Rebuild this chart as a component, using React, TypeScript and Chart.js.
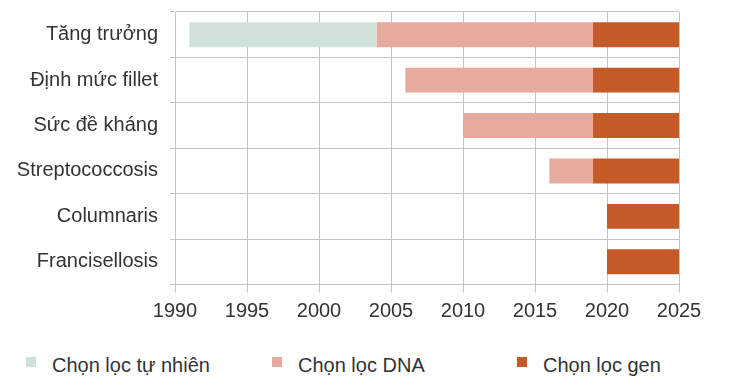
import React, { useEffect, useRef } from "react";
import { Chart, registerables } from "chart.js";

Chart.register(...registerables);

const categories = [
  "Tăng trưởng",
  "Định mức fillet",
  "Sức đề kháng",
  "Streptococcosis",
  "Columnaris",
  "Francisellosis",
];

const seriesNames = ["Chọn lọc tự nhiên", "Chọn lọc DNA", "Chọn lọc gen"];

const naturalStart = [1991, null, null, null, null, null];
const naturalEnd = [2004, null, null, null, null, null];
const dnaStart = [2004, 2006, 2010, 2016, null, null];
const dnaEnd = [2019, 2019, 2019, 2019, null, null];
const genStart = [2019, 2019, 2019, 2019, 2020, 2020];
const genEnd = [2025, 2025, 2025, 2025, 2025, 2025];

const xMin = 1990;
const xMax = 2025;
const xStep = 5;

const colors = ["#d0e1da", "#e6aa9f", "#c45a28"];
const FONT = "'Liberation Sans', Arial, Helvetica, sans-serif";
const TEXT = "#333333";
const GRID = "#c4c4c4";

function pairs(a: (number | null)[], b: (number | null)[]) {
  return a.map((s, i) => (s === null || b[i] === null ? null : [s, b[i]]));
}

export default function App() {
  const ref = useRef<HTMLCanvasElement | null>(null);

  useEffect(() => {
    document.body.style.margin = "0";
    const canvas = ref.current;
    if (!canvas) return;
    const starts = [naturalStart, dnaStart, genStart];
    const ends = [naturalEnd, dnaEnd, genEnd];
    const chart = new Chart(canvas, {
      type: "bar",
      data: {
        labels: categories,
        datasets: seriesNames.map((name, k) => ({
          label: name,
          data: pairs(starts[k], ends[k]) as any,
          backgroundColor: colors[k],
          borderWidth: 0,
          grouped: false,
          categoryPercentage: 0.55,
          barPercentage: 1,
        })),
      },
      options: {
        indexAxis: "y",
        animation: false,
        responsive: false,
        maintainAspectRatio: false,
        layout: { padding: { top: 12, right: 71, bottom: 0, left: 0 } },
        plugins: {
          legend: { display: false },
          tooltip: { enabled: false },
        },
        scales: {
          x: {
            type: "linear",
            min: xMin,
            max: xMax,
            ticks: {
              stepSize: xStep,
              color: TEXT,
              font: { family: FONT, size: 20 },
              padding: 7,
              maxRotation: 0,
              callback: (v: any) => String(v),
            },
            grid: { color: GRID, lineWidth: 1, tickLength: 8 },
            border: { color: GRID, width: 1 },
            afterFit: (s: any) => {
              s.height = 330 - 284.5;
              s.paddingLeft = 0;
              s.paddingRight = 0;
            },
          },
          y: {
            type: "category",
            ticks: {
              color: TEXT,
              font: { family: FONT, size: 20 },
              padding: 12,
            },
            grid: { color: GRID, lineWidth: 1, tickLength: 5, offset: true },
            border: { color: GRID, width: 1 },
            afterFit: (s: any) => {
              s.width = 175;
              s.paddingTop = 0;
              s.paddingBottom = 0;
            },
          },
        },
      },
    });
    return () => chart.destroy();
  }, []);

  const legendLeft = [26, 272, 517];

  return (
    <div style={{ position: "relative", width: 750, height: 392, background: "#fff" }}>
      <canvas ref={ref} width={750} height={330} style={{ display: "block", width: 750, height: 330 }} />
      {seriesNames.map((name, k) => (
        <div key={name}>
          <div
            style={{
              position: "absolute",
              left: legendLeft[k],
              top: 357,
              width: 10,
              height: 10,
              background: colors[k],
            }}
          />
          <span
            style={{
              position: "absolute",
              left: legendLeft[k] + 26,
              top: 355,
              fontFamily: FONT,
              fontSize: 20,
              lineHeight: "20px",
              color: TEXT,
              whiteSpace: "nowrap",
            }}
          >
            {name}
          </span>
        </div>
      ))}
    </div>
  );
}
